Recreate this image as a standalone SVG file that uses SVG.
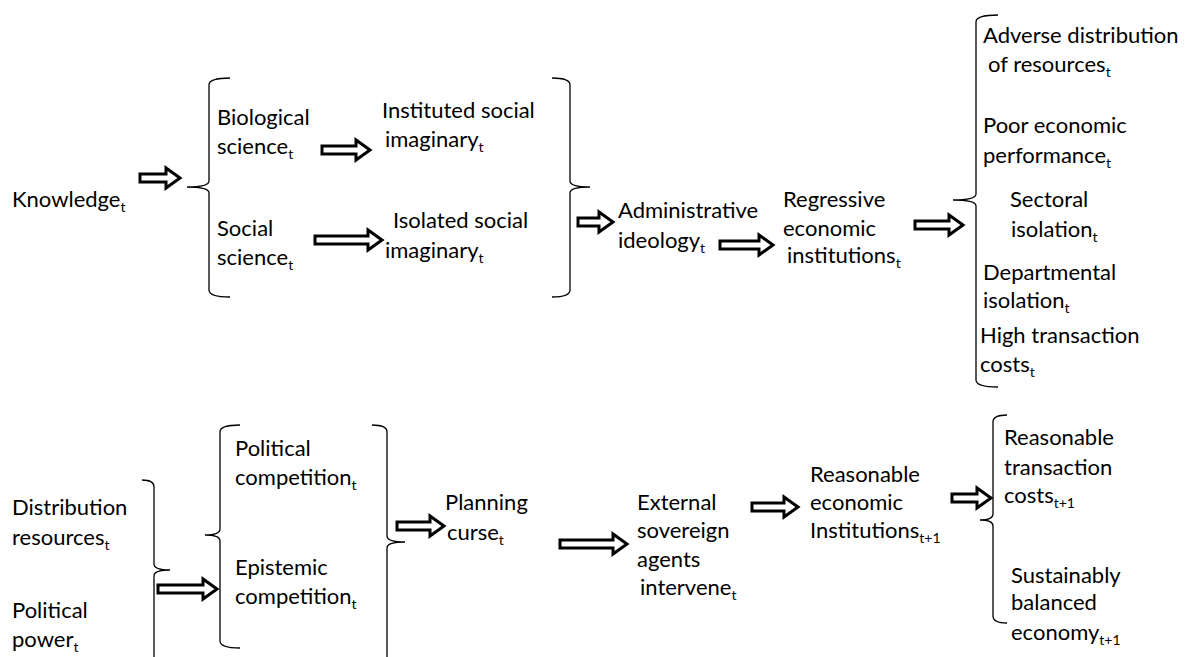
<svg xmlns="http://www.w3.org/2000/svg" width="1195" height="657" viewBox="0 0 1195 657">
<style>
text{font-family:Lato,"Open Sans","Liberation Sans",sans-serif;font-size:22px;fill:#000}
.s{font-size:14px}
.arrow{fill:#fff;stroke:#000;stroke-width:3;stroke-linejoin:miter}
.brace{fill:none;stroke:#000;stroke-width:1.3}
</style>
<rect width="1195" height="657" fill="#fff"/>
<defs>
<path id="ar" d="M0,-4 H-14 V-10 L0,0 L-14,10 V4 Z"/>
</defs>

<g id="braces">
<path class="brace" d="M230,78 Q209,78 209,85 V181 Q209,187 187,187 Q209,187 209,193 V290 Q209,297 230,297"/>
<path class="brace" d="M552,78 Q570,78 570,85 V181 Q570,187 590,187 Q570,187 570,193 V290 Q570,297 552,297"/>
<path class="brace" d="M998,15 Q976,15 976,22 V194 Q976,200 953,200 Q976,200 976,206 V380 Q976,387 998,387"/>
<path class="brace" d="M142,480 Q154,480 154,487 V564 Q154,570 170,570 Q154,570 154,576 V660"/>
<path class="brace" d="M240,425 Q220,425 220,432 V529 Q220,535 205,535 Q220,535 220,541 V641 Q220,648 240,648"/>
<path class="brace" d="M372,425 Q387,425 387,432 V536 Q387,542 405,542 Q387,542 387,548 V660"/>
<path class="brace" d="M1007,415 Q993,415 993,422 V514 Q993,520 980,520 Q993,520 993,526 V616 Q993,623 1007,623"/>
</g>

<g id="connectors">
<path class="arrow" d="M140,174 H166 V168 L180,178 L166,188 V182 H140 Z"/>
<path class="arrow" d="M322,146 H356 V140 L370,150 L356,160 V154 H322 Z"/>
<path class="arrow" d="M315,236 H368 V230 L382,240 L368,250 V244 H315 Z"/>
<path class="arrow" d="M578,218 H599 V212 L613,222 L599,232 V226 H578 Z"/>
<path class="arrow" d="M720,241 H759 V235 L773,245 L759,255 V249 H720 Z"/>
<path class="arrow" d="M915,221 H949 V215 L963,225 L949,235 V229 H915 Z"/>
<path class="arrow" d="M158,585 H203 V579 L217,589 L203,599 V593 H158 Z"/>
<path class="arrow" d="M397,522 H430 V516 L444,526 L430,536 V530 H397 Z"/>
<path class="arrow" d="M560,540 H613 V534 L627,544 L613,554 V548 H560 Z"/>
<path class="arrow" d="M752,503 H784 V497 L798,507 L784,517 V511 H752 Z"/>
<path class="arrow" d="M952,494 H977 V488 L991,498 L977,508 V502 H952 Z"/>
</g>

<g id="knowledge"><text x="12" y="207">Knowledge<tspan class="s" dy="5">t</tspan></text></g>
<g id="biological"><text x="217" y="125">Biological</text><text x="217" y="154">science<tspan class="s" dy="5">t</tspan></text></g>
<g id="social"><text x="217" y="236">Social</text><text x="217" y="265">science<tspan class="s" dy="5">t</tspan></text></g>
<g id="instituted"><text x="382" y="118">Instituted social</text><text x="385" y="147">imaginary<tspan class="s" dy="5">t</tspan></text></g>
<g id="isolated"><text x="393" y="228">Isolated social</text><text x="385" y="258">imaginary<tspan class="s" dy="5">t</tspan></text></g>
<g id="administrative"><text x="618" y="218">Administrative</text><text x="618" y="248">ideology<tspan class="s" dy="5">t</tspan></text></g>
<g id="regressive"><text x="783" y="207">Regressive</text><text x="783" y="236">economic</text><text x="787" y="263">institutions<tspan class="s" dy="5">t</tspan></text></g>
<g id="adverse"><text x="983" y="43">Adverse distribution</text><text x="988" y="72">of resources<tspan class="s" dy="5">t</tspan></text></g>
<g id="poor"><text x="983" y="133">Poor economic</text><text x="983" y="163">performance<tspan class="s" dy="5">t</tspan></text></g>
<g id="sectoral"><text x="1010" y="207">Sectoral</text><text x="1011" y="237">isolation<tspan class="s" dy="5">t</tspan></text></g>
<g id="departmental"><text x="983" y="280">Departmental</text><text x="983" y="308">isolation<tspan class="s" dy="5">t</tspan></text></g>
<g id="high"><text x="980" y="343">High transaction</text><text x="980" y="372">costs<tspan class="s" dy="5">t</tspan></text></g>

<g id="distribution"><text x="12" y="515">Distribution</text><text x="12" y="545">resources<tspan class="s" dy="5">t</tspan></text></g>
<g id="power"><text x="12" y="618">Political</text><text x="12" y="647">power<tspan class="s" dy="5">t</tspan></text></g>
<g id="political"><text x="235" y="456">Political</text><text x="235" y="485">competition<tspan class="s" dy="5">t</tspan></text></g>
<g id="epistemic"><text x="235" y="575">Epistemic</text><text x="235" y="604">competition<tspan class="s" dy="5">t</tspan></text></g>
<g id="planning"><text x="445" y="510">Planning</text><text x="447" y="540">curse<tspan class="s" dy="5">t</tspan></text></g>
<g id="external"><text x="637" y="510">External</text><text x="637" y="538">sovereign</text><text x="637" y="567">agents</text><text x="640" y="595">intervene<tspan class="s" dy="5">t</tspan></text></g>
<g id="reasonable-inst"><text x="810" y="482">Reasonable</text><text x="810" y="510">economic</text><text x="810" y="538">Institutions<tspan class="s" dy="5">t+1</tspan></text></g>
<g id="reasonable-cost"><text x="1004" y="445">Reasonable</text><text x="1004" y="475">transaction</text><text x="1004" y="503">costs<tspan class="s" dy="5">t+1</tspan></text></g>
<g id="sustainable"><text x="1011" y="583">Sustainably</text><text x="1011" y="610">balanced</text><text x="1011" y="640">economy<tspan class="s" dy="5">t+1</tspan></text></g>
</svg>
